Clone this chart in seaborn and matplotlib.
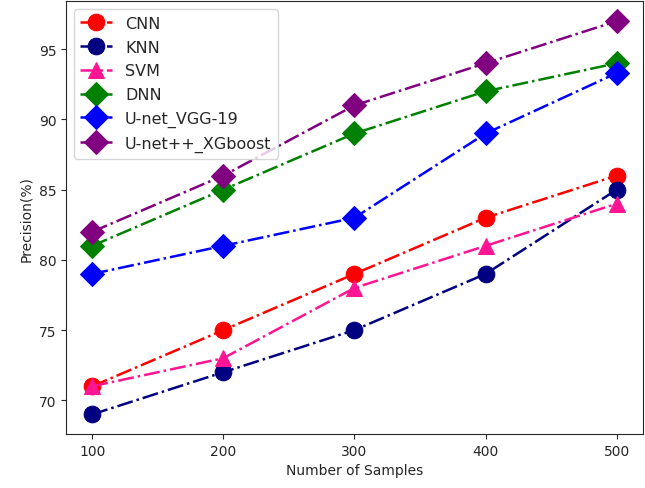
import matplotlib
matplotlib.use("Agg")
import matplotlib.pyplot as plt
import seaborn as sns
import pandas as pd

samples = [100, 200, 300, 400, 500]
cnn = [71, 75, 79, 83, 86]
knn = [69, 72, 75, 79, 85]
svm = [71, 73, 78, 81, 84]
dnn = [81, 85, 89, 92, 94]
unet_vgg = [79, 81, 83, 89, 93.3]
unetpp_xgb = [82, 86, 91, 94, 97]

series = [
    ("CNN", cnn, "red", "o"),
    ("KNN", knn, "navy", "o"),
    ("SVM", svm, "deeppink", "^"),
    ("DNN", dnn, "green", "D"),
    ("U-net_VGG-19", unet_vgg, "blue", "D"),
    ("U-net++_XGboost", unetpp_xgb, "purple", "D"),
]

sns.set_style("ticks")
plt.rcParams['font.family'] = ['DejaVu Sans']
fig = plt.figure(figsize=(6.45, 4.89), dpi=100)
ax = fig.add_axes([0.1023, 0.1104, 0.8946, 0.8846])

for name, vals, color, marker in series:
    df = pd.DataFrame({"x": samples, "y": vals})
    sns.lineplot(data=df, x="x", y="y", ax=ax, color=color, marker=marker,
                 markersize=12, linestyle="-.", linewidth=1.8, label=name,
                 markeredgecolor=color)

ax.set_xticks(samples)
ax.set_xlabel("Number of Samples")
ax.set_ylabel("Precision(%)")
ax.legend(loc="upper left", fontsize=11.5, labelspacing=0.55)
for s in ax.spines.values():
    s.set_visible(True)
fig.savefig("out.png", dpi=100)
